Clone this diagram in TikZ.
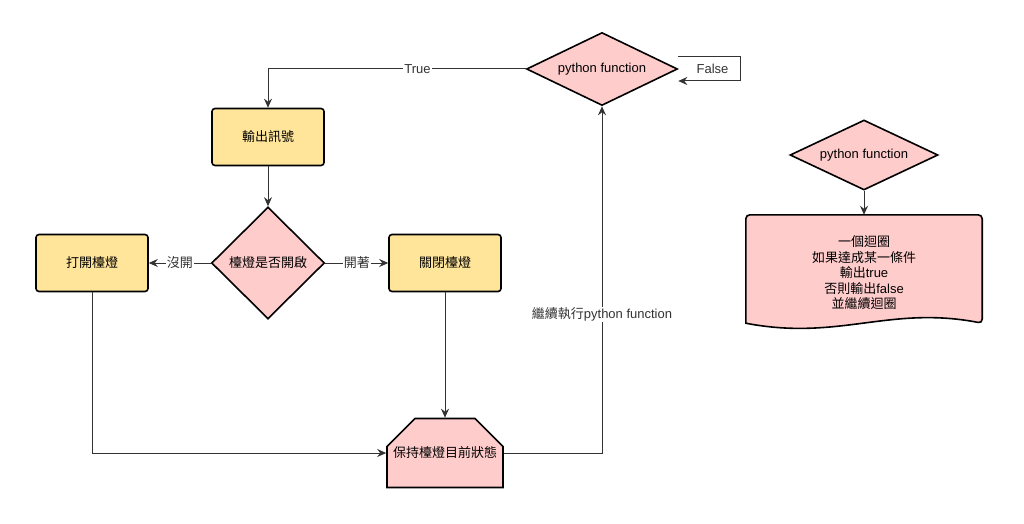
\documentclass[tikz,border=0pt]{standalone}
\usepackage{fontspec}
\setmainfont{Liberation Sans}
\newfontfamily\cjk{Noto Sans CJK TC}
\usepackage{tikz}
\usetikzlibrary{positioning}
\usetikzlibrary{shapes,arrows,arrows.meta,positioning,backgrounds}
\definecolor{boxyellow}{HTML}{FFE599}
\definecolor{boxpink}{HTML}{FFCCCC}
\newcommand{\figfont}{\fontsize{13}{15.5}\selectfont}
\tikzstyle{block} = [rectangle, draw, line width=1.6pt, fill=boxyellow,
minimum width=112pt, minimum height=57pt, rounded corners=3pt, font=\figfont\cjk]
\tikzstyle{decision} = [diamond, draw, line width=1.6pt, fill=boxpink, inner sep=0pt, aspect=2, font=\figfont]
\tikzstyle{keepbox} = [chamfered rectangle, chamfered rectangle corners={north west, north east},
chamfered rectangle xsep=20pt, chamfered rectangle ysep=22pt, draw, line width=1.6pt, fill=boxpink,
minimum width=112pt, minimum height=69pt, inner sep=0pt, font=\figfont\cjk]
\tikzstyle{docbox} = [rectangle, minimum width=236pt, minimum height=116pt, align=center, font=\figfont]
\tikzstyle{docline} = [draw, line width=1.6pt, fill=boxpink]
\tikzstyle{edgelabel} = [fill=white, inner sep=1pt, font=\figfont]
\tikzstyle{line} = [draw, line width=1pt, black!80, -{Stealth[length=9pt, width=8pt, inset=3pt]}]

\begin{document}
\begin{tikzpicture}[x=1pt, y=-1pt, node distance=126pt]
    \useasboundingbox (0,0) rectangle (1024,524);
    % nodes
   \node [decision, minimum width=151pt, minimum height=73pt] (pyfn) at (602,69) {python function};
   \node [block] (signal) at (268,137) {輸出訊號};
   \node [decision, aspect=1, minimum width=113pt, minimum height=112pt, font=\figfont\cjk, below of=signal] (check) {檯燈是否開啟};
   \node [block, left of=check, node distance=176pt] (turnon) {打開檯燈};
   \node [block, right of=check, node distance=177pt] (turnoff) {關閉檯燈};
   \node [keepbox, below of=turnoff, node distance=190pt] (keep) {保持檯燈目前狀態};
   \node [decision, minimum width=148pt, minimum height=70pt] (pyfn2) at (864,155) {python function};
   \node [docbox, below of=pyfn2, node distance=118pt] (loopnote) {{\cjk 一個迴圈}\\{\cjk 如果達成某一條件}\\{\cjk 輸出}true\\{\cjk 否則輸出}false\\{\cjk 並繼續迴圈}};
   \begin{scope}[on background layer]
     \draw [docline] ([yshift=8pt]loopnote.south west) [rounded corners=4pt] -- (loopnote.north west) -- (loopnote.north east) -- ([yshift=8pt]loopnote.south east) [sharp corners] .. controls +(-93,-18) and +(93,18) .. ([yshift=8pt]loopnote.south west) -- cycle;
   \end{scope}

    % edges
          \path [line] (pyfn.west) -| node [edgelabel, pos=0.21] {True} (signal.north);
          \draw [line] ([yshift=12pt]pyfn.east) -- ++(62,0) |- node [pos=0.25, left=8pt, font=\figfont] {False} ([yshift=-12pt]pyfn.east);
          \path [line] (signal) -- (check);
          \path [line] (check) -- node [edgelabel] {\cjk 沒開} (turnon);
          \path [line] (check) -- node [edgelabel] {\cjk 開著} (turnoff);
          \path [line] (turnoff) -- (keep);
          \draw [line] (turnon) |- (keep);
          \draw [line] (keep) -| node [edgelabel, pos=0.7] {{\cjk 繼續執行}python function} (pyfn);
          \path [line] (pyfn2) -- (loopnote);

  \end{tikzpicture}
\end{document}
